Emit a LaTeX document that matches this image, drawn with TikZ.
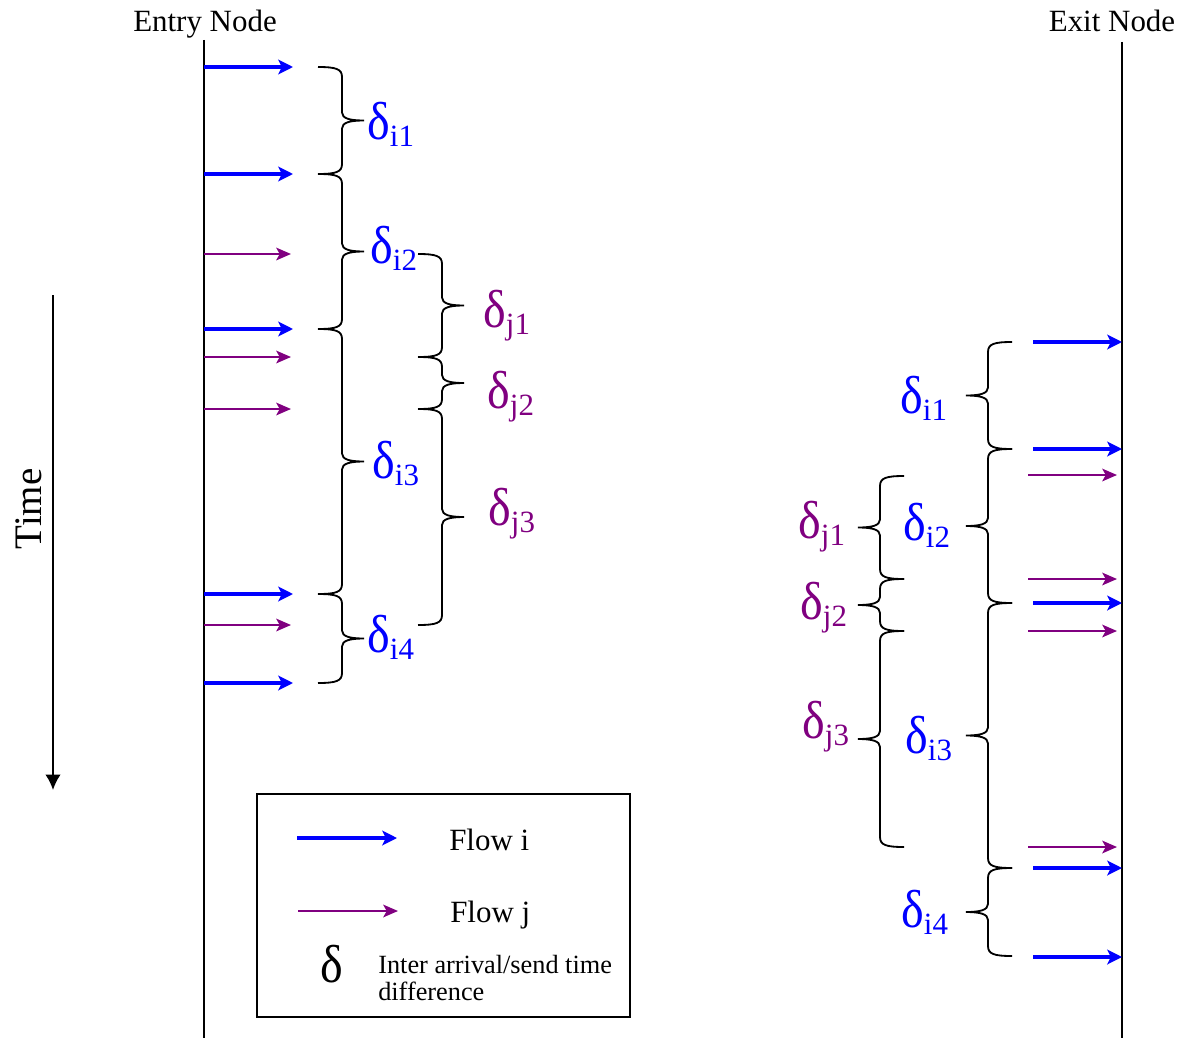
\documentclass[tikz,border=0pt]{standalone}
\usepackage{fontspec}
\setmainfont{Liberation Serif}
\usepackage{xcolor}
\usepackage{tikz}
\usetikzlibrary{arrows.meta}

\definecolor{flowblue}{RGB}{0,0,255}
\definecolor{flowpurple}{RGB}{128,0,128}

\tikzset{
  tline/.style={black, line width=1.4pt},
  arrI/.style={-{Stealth[length=10.5pt,width=10.5pt,inset=2.5pt]}, flowblue, line width=2.2pt},
  arrJ/.style={-{Stealth[length=10.5pt,width=9pt,inset=2.5pt]}, flowpurple, line width=1.5pt},
  gap/.style={black, line width=1.3pt},
  title/.style={anchor=base, inner sep=0pt, font=\fontsize{22pt}{24pt}\selectfont},
  dl/.style={anchor=base west, inner sep=0pt, font=\fontsize{22pt}{24pt}\selectfont},
}

% delta with its index
\newcommand{\dsym}{\scalebox{0.9}[1]{\fontsize{38pt}{38pt}\selectfont δ}}
\newcommand{\dlab}[1]{\dsym\raisebox{-5pt}{#1}}
% curly brace: spine x, top y, bottom y, side of the tip (1 right, -1 left)
\newcommand{\gapbrace}[4]{%
  \draw[gap] ({#1-24*(#4)},#2) .. controls ({#1-6*(#4)},#2) and (#1,{#2+2}) .. (#1,{#2+10})
    -- (#1,{(#2+#3)/2-8}) .. controls (#1,{(#2+#3)/2-2}) and ({#1+8*(#4)},{(#2+#3)/2}) .. ({#1+22*(#4)},{(#2+#3)/2})
    .. controls ({#1+8*(#4)},{(#2+#3)/2}) and (#1,{(#2+#3)/2+2}) .. (#1,{(#2+#3)/2+8})
    -- (#1,{#3-10}) .. controls (#1,{#3-2}) and ({#1-6*(#4)},#3) .. ({#1-24*(#4)},#3);}

\begin{document}
\begin{tikzpicture}[x=0.025cm, y=-0.025cm]
\useasboundingbox (0,0) rectangle (1191,1038);
\coordinate (E0) at (204,40);
\coordinate (E1) at (204,1038);
\coordinate (X0) at (1122,42);
\coordinate (X1) at (1122,1038);
\coordinate (T0) at (53,295);
\coordinate (T1) at (53,790);

\node[title] (entry) at (205,32) {Entry Node};
\node[title] (exit) at (1112,32) {Exit Node};
\draw[tline] (E0) -- (E1);
\draw[tline] (X0) -- (X1);

% time axis
\draw[black, line width=1.3pt, -{Latex[length=11pt,width=11pt]}] (T0) -- (T1);
\node[rotate=90, anchor=base, inner sep=0pt, font=\fontsize{27.7pt}{30pt}\selectfont] (time) at (42,509) {Time};

% packets at the entry
\foreach \y in {67,174,329,594,683}
    \draw[arrI] (204,\y) -- ++(89,0);
\foreach \y in {254,357,409,625}
    \draw[arrJ] (204,\y) -- ++(87,0);

% packets at the exit
\foreach \y in {342,449,603,868,957}
    \draw[arrI] (1033,\y) -- ++(89,0);
\foreach \y in {475,579,631,847}
    \draw[arrJ] (1028,\y) -- ++(89,0);

% gaps
\foreach \a/\b in {67/174,174/329,329/594,594/683}{
    \gapbrace{342}{\a}{\b}{1}
}
\foreach \a/\b in {254/357,357/409,409/625}{
    \gapbrace{442}{\a}{\b}{1}
}
\foreach \a/\b in {342/449,449/603,603/868,868/956}{
    \gapbrace{988}{\a}{\b}{-1}
}
\foreach \a/\b in {476/579,579/631,631/847}{
    \gapbrace{880}{\a}{\b}{-1}
}

\node[dl, text=flowblue]   (li1) at (367,139) {\dlab{i1}};
\node[dl, text=flowblue]   (li2) at (370,263) {\dlab{i2}};
\node[dl, text=flowblue]   (li3) at (372,478) {\dlab{i3}};
\node[dl, text=flowblue]   (li4) at (367,652) {\dlab{i4}};
\node[dl, text=flowpurple] (lj1) at (483,327) {\dlab{j1}};
\node[dl, text=flowpurple] (lj2) at (487,408) {\dlab{j2}};
\node[dl, text=flowpurple] (lj3) at (488,525) {\dlab{j3}};

\node[dl, text=flowblue]   (ri1) at (900,413) {\dlab{i1}};
\node[dl, text=flowblue]   (ri2) at (903,540) {\dlab{i2}};
\node[dl, text=flowblue]   (ri3) at (905,753) {\dlab{i3}};
\node[dl, text=flowblue]   (ri4) at (901,927) {\dlab{i4}};
\node[dl, text=flowpurple] (rj1) at (798,538) {\dlab{j1}};
\node[dl, text=flowpurple] (rj2) at (800,619) {\dlab{j2}};
\node[dl, text=flowpurple] (rj3) at (802,738) {\dlab{j3}};

% legend
\draw[black, line width=1.4pt] (257,794) rectangle (630,1017);
\draw[arrI] (297,838) -- (397,838);
\draw[arrJ] (298,911) -- (398,911);
\node[dl] (legi) at (449,850) {Flow i};
\node[dl] (legj) at (450,922) {Flow j};
\node[dl] (legd) at (320,982) {\dsym};
\node[dl, font=\fontsize{18.7pt}{20pt}\selectfont] (legt1) at (378,973) {Inter arrival/send time};
\node[dl, font=\fontsize{18.7pt}{20pt}\selectfont] (legt2) at (378,1000) {difference};
\end{tikzpicture}
\end{document}
